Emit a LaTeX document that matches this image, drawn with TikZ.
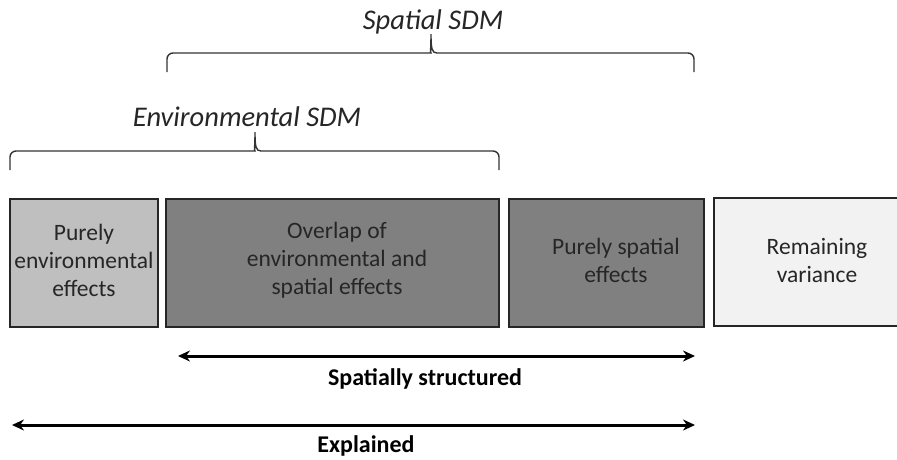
\documentclass[tikz,border=0pt]{standalone}
\usepackage{fontspec}
\setmainfont{Carlito}
\usetikzlibrary{arrows.meta}

\begin{document}
\begin{tikzpicture}[x=1pt,y=-1pt,
  box/.style={draw=black!85,line width=1.5pt,inner sep=0pt,minimum height=128pt},
  txt/.style={align=center,text=black!85,font=\fontsize{23.5}{28}\selectfont},
  brace/.style={draw=black!80,line width=1.4pt},
  model/.style={font=\fontsize{28.5}{32}\selectfont\itshape,text=black!85},
  span/.style={line width=3pt,{Stealth[length=12pt,width=11pt]}-{Stealth[length=12pt,width=11pt]}},
  part/.style={font=\fontsize{24}{28}\selectfont\bfseries}]
\useasboundingbox (0,0) rectangle (897,459);

\node[box,fill=black!25,minimum width=148pt] (pe) at (84,263) {};
\node[box,fill=black!50,minimum width=333pt] (ov) at (332.5,263) {};
\node[box,fill=black!50,minimum width=195pt] (ps) at (606.5,263) {};
\node[box,fill=black!5,minimum width=195pt] (rv) at (811.5,262) {};

\node[txt] at (84,260) {Purely\\environmental\\effects};
\node[txt] at (337,260) {Overlap of\\environmental and\\spatial effects};
\node[txt] at (616,260) {Purely spatial\\effects};
\node[txt] at (817,260) {Remaining\\variance};

\foreach \l/\r/\y/\m in {167/694/53/431, 10/499/151/255}
  \draw[brace] (\l,\y+19) [rounded corners=6pt] -- (\l,\y) -- (\m-6,\y) [sharp corners]
    .. controls (\m-1,\y) and (\m,\y-4) .. (\m,\y-19)
    .. controls (\m,\y-4) and (\m+1,\y) .. (\m+6,\y) [rounded corners=6pt] -- (\r,\y) -- (\r,\y+19);

\node[model] (sp) at (433,22) {Spatial SDM};
\node[model] (en) at (247,117) {Environmental SDM};

\coordinate (s1) at (178,356);
\coordinate (s2) at (695,356);
\coordinate (e1) at (12,425);
\coordinate (e2) at (695,425);
\draw[span] (s1) -- (s2);
\draw[span] (e1) -- (e2);

\node[part] (ss) at (425,379) {Spatially structured};
\node[part] (ex) at (366,446) {Explained};

\end{tikzpicture}
\end{document}
